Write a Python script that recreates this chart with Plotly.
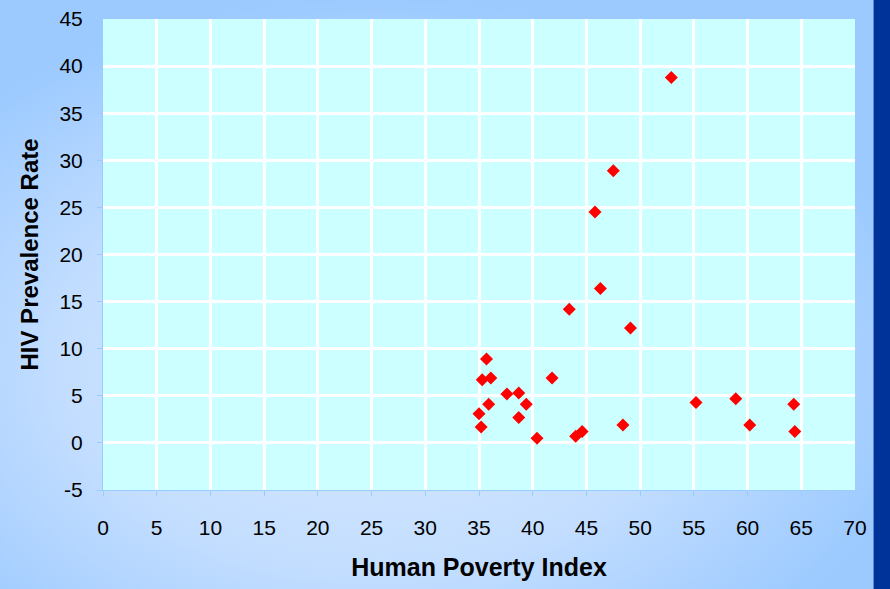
import base64
import plotly.graph_objects as go

# Data
human_poverty_index = [52.9, 47.5, 45.8, 46.3, 43.4, 49.1, 35.7, 35.3, 36.1, 41.8,
                       37.6, 38.7, 35.9, 39.4, 35.0, 38.7, 35.2, 40.4, 44.0, 44.6,
                       48.4, 55.2, 58.9, 60.2, 64.3, 64.4]
hiv_prevalence = [38.8, 28.9, 24.5, 16.4, 14.2, 12.2, 8.9, 6.7, 6.9, 6.9,
                  5.2, 5.3, 4.1, 4.1, 3.1, 2.7, 1.7, 0.5, 0.7, 1.2,
                  1.9, 4.3, 4.7, 1.9, 4.1, 1.2]

x_ticks = list(range(0, 71, 5))
y_ticks = list(range(-5, 46, 5))

FONT = "Liberation Sans, Arial, sans-serif"

W, H = 890, 589
L, R, T, B = 103, 35, 19, 99
pw, ph = W - L - R, H - T - B

# Decorative background: radial gradient, plot-area fill, dark right strip
svg = f"""<svg xmlns='http://www.w3.org/2000/svg' width='{W}' height='{H}'>
<defs><radialGradient id='g' cx='0.42' cy='0.62' r='0.62'>
<stop offset='0' stop-color='#D8EAFF'/>
<stop offset='0.55' stop-color='#C4DEFF'/>
<stop offset='1' stop-color='#9CCAFF'/>
</radialGradient></defs>
<rect width='{W}' height='{H}' fill='url(#g)'/>
<rect x='{L}' y='{T}' width='{pw}' height='{ph}' fill='#CCFFFF'/>
<rect x='873' y='0' width='1' height='{H}' fill='#5C88D6'/>
<rect x='874' y='0' width='{W - 874}' height='{H}' fill='#003399'/>
</svg>"""
bg_uri = "data:image/svg+xml;base64," + base64.b64encode(svg.encode()).decode()

fig = go.Figure()
fig.add_trace(go.Scatter(
    x=human_poverty_index, y=hiv_prevalence, mode="markers",
    marker=dict(symbol="diamond", size=10, color="#FF0000", line=dict(width=0)),
    showlegend=False, hoverinfo="x+y",
))

fig.update_layout(
    width=W, height=H,
    margin=dict(l=L, r=R, t=T, b=B, pad=0, autoexpand=False),
    paper_bgcolor="#9CCAFF",
    plot_bgcolor="#CCFFFF",
    font=dict(family=FONT, size=21, color="#000000"),
    images=[dict(source=bg_uri, xref="paper", yref="paper",
                 x=-L / pw, y=1 + T / ph, sizex=W / pw, sizey=H / ph,
                 xanchor="left", yanchor="top", sizing="stretch", layer="below")],
    xaxis=dict(
        range=[0, 70], tickvals=x_ticks, ticktext=[str(v) for v in x_ticks],
        showgrid=True, gridcolor="#FFFFFF", gridwidth=3,
        zeroline=False, showline=True, linecolor="#99CCFF", linewidth=1,
        ticks="outside", ticklen=5, tickcolor="#99CCFF", tickwidth=1,
        ticklabelstandoff=14, automargin=False,
        tickfont=dict(family=FONT, size=21, color="#000000"),
        title=dict(text="<b>Human Poverty Index</b>", standoff=20,
                   font=dict(family=FONT, size=25, color="#000000")),
        fixedrange=True,
    ),
    yaxis=dict(
        range=[-5, 45], tickvals=y_ticks, ticktext=[str(v) for v in y_ticks],
        showgrid=True, gridcolor="#FFFFFF", gridwidth=3,
        zeroline=False, showline=True, linecolor="#99CCFF", linewidth=1,
        ticks="outside", ticklen=5, tickcolor="#99CCFF", tickwidth=1,
        ticklabelstandoff=10, automargin=False,
        tickfont=dict(family=FONT, size=21, color="#000000"),
        title=dict(text="<b>HIV Prevalence Rate</b>", standoff=14,
                   font=dict(family=FONT, size=24, color="#000000")),
        fixedrange=True,
    ),
)

fig.write_html("out.html", config={"displayModeBar": False},
               post_script="document.body.style.margin='0';")
